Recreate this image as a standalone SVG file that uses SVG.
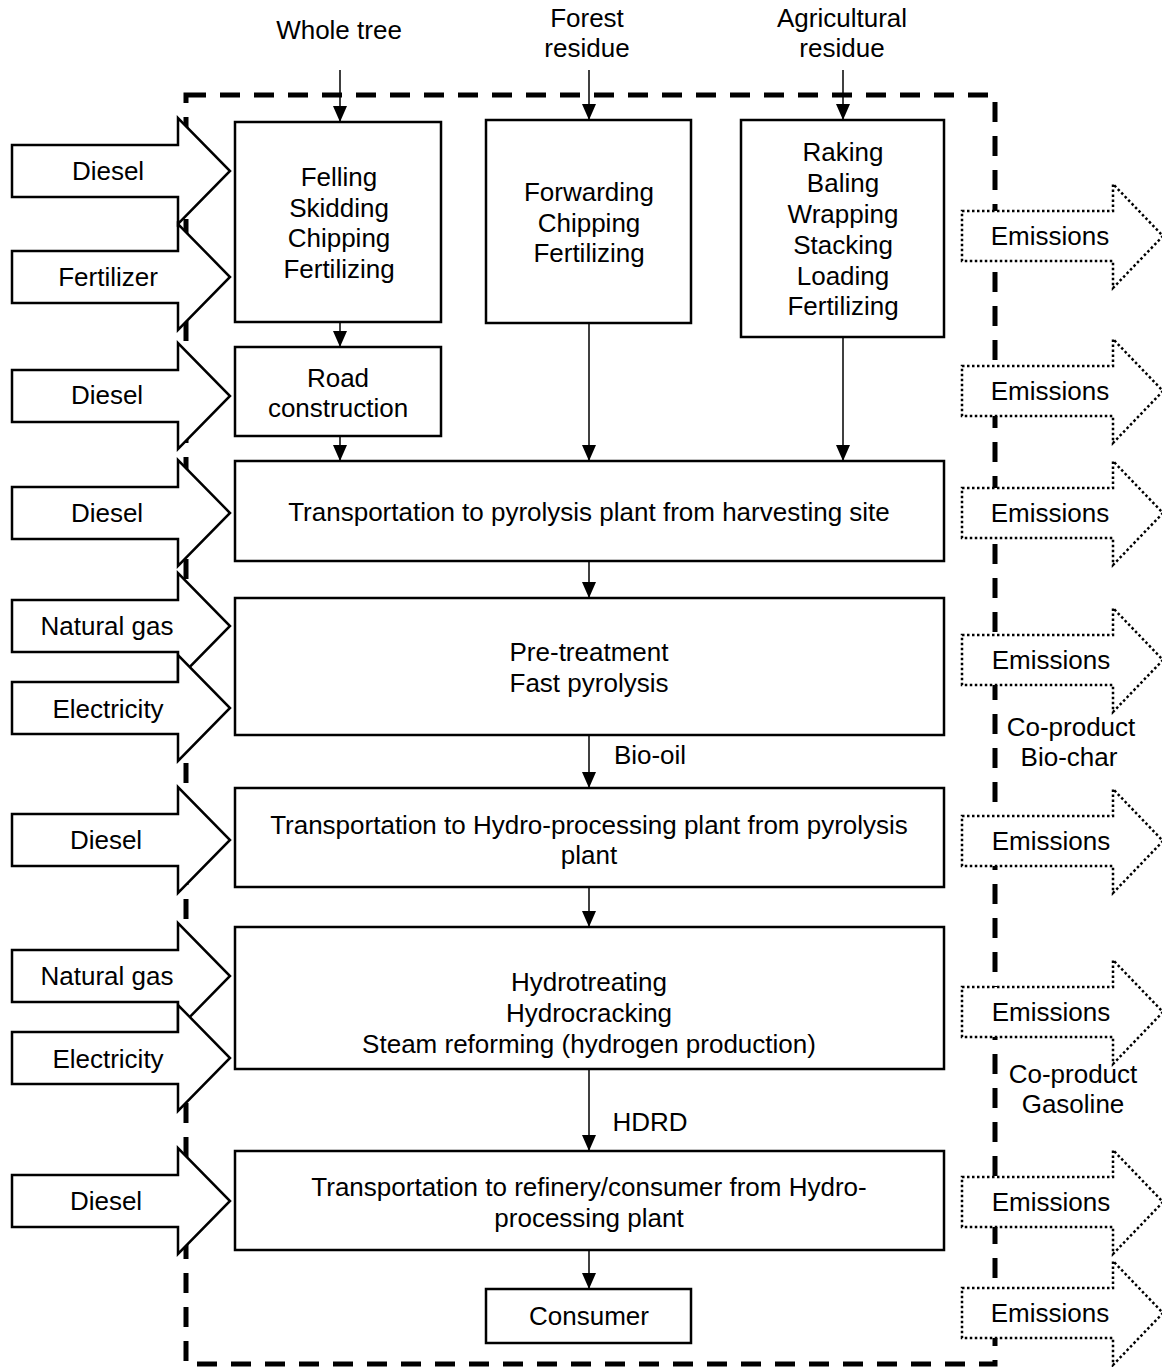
<svg xmlns="http://www.w3.org/2000/svg" width="1162" height="1367" viewBox="0 0 1162 1367">
<defs>
<style>
text{font-family:"Liberation Sans",Arial,sans-serif;font-size:26px;fill:#000;text-anchor:middle}
.box{fill:#fff;stroke:#000;stroke-width:2.5}
.in{fill:#fff;stroke:#000;stroke-width:2.5;stroke-linejoin:miter}
.out{fill:#fff;stroke:#000;stroke-width:2.5;stroke-dasharray:2.5 2.5}
.bnd{fill:none;stroke:#000;stroke-width:5;stroke-dasharray:20 14}
.con{stroke:#000;stroke-width:1.5;fill:none}
</style>
<marker id="ah" viewBox="0 0 16 14" refX="16" refY="7" markerWidth="16" markerHeight="14" markerUnits="userSpaceOnUse" orient="auto">
<path d="M0,0L16,7L0,14Z" fill="#000"/>
</marker>
<path id="inA" d="M12,-26H178V-53L230,0L178,53V26H12Z"/>
<path id="outA" d="M962,-25H1113V-52L1163,0L1113,52V25H962Z"/>
</defs>
<rect width="1162" height="1367" fill="#fff"/>
<rect class="bnd" x="186" y="95" width="809" height="1269"/>

<g id="sources">
<text x="339" y="39">Whole tree</text>
<text x="587" y="27">Forest</text>
<text x="587" y="57">residue</text>
<text x="842" y="27">Agricultural</text>
<text x="842" y="57">residue</text>
</g>

<g id="inputs">
<g id="in1"><use href="#inA" class="in" transform="translate(0,171)"/><text x="108" y="180">Diesel</text></g>
<g id="in2"><use href="#inA" class="in" transform="translate(0,277)"/><text x="108" y="286">Fertilizer</text></g>
<g id="in3"><use href="#inA" class="in" transform="translate(0,396)"/><text x="107" y="404">Diesel</text></g>
<g id="in4"><use href="#inA" class="in" transform="translate(0,513)"/><text x="107" y="522">Diesel</text></g>
<g id="in5"><use href="#inA" class="in" transform="translate(0,626)"/><text x="107" y="635">Natural gas</text></g>
<g id="in6"><use href="#inA" class="in" transform="translate(0,708)"/><text x="108" y="718">Electricity</text></g>
<g id="in7"><use href="#inA" class="in" transform="translate(0,840)"/><text x="106" y="849">Diesel</text></g>
<g id="in8"><use href="#inA" class="in" transform="translate(0,976)"/><text x="107" y="985">Natural gas</text></g>
<g id="in9"><use href="#inA" class="in" transform="translate(0,1058)"/><text x="108" y="1068">Electricity</text></g>
<g id="in10"><use href="#inA" class="in" transform="translate(0,1201)"/><text x="106" y="1210">Diesel</text></g>
</g>

<g id="outputs">
<g id="out1"><use href="#outA" class="out" transform="translate(0,236)"/><text x="1050" y="245">Emissions</text></g>
<g id="out2"><use href="#outA" class="out" transform="translate(0,391)"/><text x="1050" y="400">Emissions</text></g>
<g id="out3"><use href="#outA" class="out" transform="translate(0,513)"/><text x="1050" y="522">Emissions</text></g>
<g id="out4"><use href="#outA" class="out" transform="translate(0,660)"/><text x="1051" y="669">Emissions</text></g>
<g id="out5"><use href="#outA" class="out" transform="translate(0,841)"/><text x="1051" y="850">Emissions</text></g>
<g id="out6"><use href="#outA" class="out" transform="translate(0,1012)"/><text x="1051" y="1021">Emissions</text></g>
<g id="out7"><use href="#outA" class="out" transform="translate(0,1202)"/><text x="1051" y="1211">Emissions</text></g>
<g id="out8"><use href="#outA" class="out" transform="translate(0,1313)"/><text x="1050" y="1322">Emissions</text></g>
<g id="co1"><text x="1071" y="736">Co-product</text><text x="1069" y="766">Bio-char</text></g>
<g id="co2"><text x="1073" y="1083">Co-product</text><text x="1073" y="1113">Gasoline</text></g>
</g>

<g id="connectors">
<line class="con" x1="340" y1="70" x2="340" y2="122" marker-end="url(#ah)"/>
<line class="con" x1="589" y1="70" x2="589" y2="120" marker-end="url(#ah)"/>
<line class="con" x1="843" y1="70" x2="843" y2="120" marker-end="url(#ah)"/>
<line class="con" x1="340" y1="322" x2="340" y2="347" marker-end="url(#ah)"/>
<line class="con" x1="340" y1="436" x2="340" y2="461" marker-end="url(#ah)"/>
<line class="con" x1="589" y1="323" x2="589" y2="461" marker-end="url(#ah)"/>
<line class="con" x1="843" y1="337" x2="843" y2="461" marker-end="url(#ah)"/>
<line class="con" x1="589" y1="561" x2="589" y2="598" marker-end="url(#ah)"/>
<line class="con" x1="589" y1="735" x2="589" y2="788" marker-end="url(#ah)"/>
<text x="650" y="764">Bio-oil</text>
<line class="con" x1="589" y1="887" x2="589" y2="927" marker-end="url(#ah)"/>
<line class="con" x1="589" y1="1069" x2="589" y2="1151" marker-end="url(#ah)"/>
<text x="650" y="1131">HDRD</text>
<line class="con" x1="589" y1="1250" x2="589" y2="1289" marker-end="url(#ah)"/>
</g>

<g id="felling"><rect class="box" x="235" y="122" width="206" height="200"/>
<text x="339" y="186">Felling</text><text x="339" y="217">Skidding</text><text x="339" y="247">Chipping</text><text x="339" y="278">Fertilizing</text></g>
<g id="forwarding"><rect class="box" x="486" y="120" width="205" height="203"/>
<text x="589" y="201">Forwarding</text><text x="589" y="232">Chipping</text><text x="589" y="262">Fertilizing</text></g>
<g id="raking"><rect class="box" x="741" y="120" width="203" height="217"/>
<text x="843" y="161">Raking</text><text x="843" y="192">Baling</text><text x="843" y="223">Wrapping</text><text x="843" y="254">Stacking</text><text x="843" y="285">Loading</text><text x="843" y="315">Fertilizing</text></g>
<g id="road"><rect class="box" x="235" y="347" width="206" height="89"/>
<text x="338" y="387">Road</text><text x="338" y="417">construction</text></g>
<g id="transport1"><rect class="box" x="235" y="461" width="709" height="100"/>
<text x="589" y="521">Transportation to pyrolysis plant from harvesting site</text></g>
<g id="pyrolysis"><rect class="box" x="235" y="598" width="709" height="137"/>
<text x="589" y="661">Pre-treatment</text><text x="589" y="692">Fast pyrolysis</text></g>
<g id="transport2"><rect class="box" x="235" y="788" width="709" height="99"/>
<text x="589" y="834">Transportation to Hydro-processing plant from pyrolysis</text><text x="589" y="864">plant</text></g>
<g id="hydro"><rect class="box" x="235" y="927" width="709" height="142"/>
<text x="589" y="991">Hydrotreating</text><text x="589" y="1022">Hydrocracking</text><text x="589" y="1053">Steam reforming (hydrogen production)</text></g>
<g id="transport3"><rect class="box" x="235" y="1151" width="709" height="99"/>
<text x="589" y="1196">Transportation to refinery/consumer from Hydro-</text><text x="589" y="1227">processing plant</text></g>
<g id="consumer"><rect class="box" x="486" y="1289" width="205" height="54"/>
<text x="589" y="1325">Consumer</text></g>
</svg>
